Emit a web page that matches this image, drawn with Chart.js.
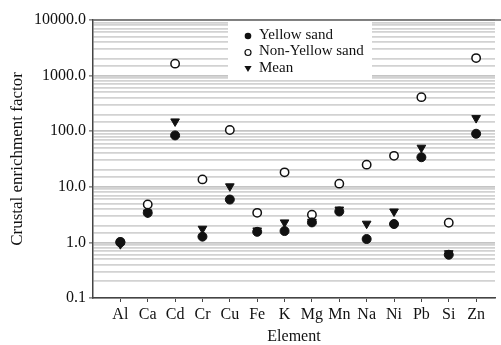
<!DOCTYPE html>
<html>
<head>
<meta charset="utf-8">
<script src="https://cdn.jsdelivr.net/npm/chart.js@4"></script>
<style>
html,body{margin:0;padding:0;background:#fff;}
#wrap{width:501px;height:345px;}
</style>
</head>
<body>
<div id="wrap"><canvas id="c" width="501" height="345"></canvas></div>
<script>
const categories = ['Al','Ca','Cd','Cr','Cu','Fe','K','Mg','Mn','Na','Ni','Pb','Si','Zn'];
const yellowSand = [1.0, 3.4, 84, 1.27, 5.9, 1.55, 1.6, 2.29, 3.6, 1.15, 2.14, 34, 0.60, 90];
const nonYellowSand = [1.02, 4.8, 1640, 13.6, 105, 3.4, 18.2, 3.15, 11.4, 25, 36, 410, 2.26, 2065];
const meanValues = [0.93, 3.45, 150, 1.76, 10.2, 1.64, 2.29, 2.35, 3.9, 2.17, 3.6, 50.5, 0.64, 172];
const yTickLabels = ['0.1','1.0','10.0','100.0','1000.0','10000.0'];
const seriesNames = ['Yellow sand','Non-Yellow sand','Mean'];

const FONT = "'Liberation Serif', 'Times New Roman', serif";
const toXY = arr => arr.map((v,i)=>({x:i,y:v}));
const isMajor = v => Math.abs(Math.log10(v) - Math.round(Math.log10(v))) < 1e-9;

const legendPlugin = {
  id:'inlineLegend',
  afterDatasetsDraw(chart){
    const ctx = chart.ctx;
    ctx.save();
    ctx.fillStyle = '#fff';
    ctx.fillRect(228, 21, 144, 59);
    const rows = [35, 51.5, 68];
    ctx.font = "15px " + FONT;
    ctx.textBaseline = 'middle';
    chart.data.datasets.forEach((ds) => {
      const idx = seriesNames.indexOf(ds.label);
      const y = rows[idx];
      const x = 248;
      ctx.save();
      ctx.lineWidth = 1.2;
      ctx.strokeStyle = '#111';
      if (idx === 0) { ctx.fillStyle='#111'; ctx.beginPath(); ctx.arc(x, y+1, 3.3, 0, Math.PI*2); ctx.fill(); }
      else if (idx === 1) { ctx.fillStyle='#fff'; ctx.beginPath(); ctx.arc(x, y+1, 3, 0, Math.PI*2); ctx.fill(); ctx.stroke(); }
      else { ctx.fillStyle='#111'; ctx.beginPath(); ctx.moveTo(x-3.6, y-2); ctx.lineTo(x+3.6, y-2); ctx.lineTo(x, y+4); ctx.closePath(); ctx.fill(); }
      ctx.restore();
      ctx.fillStyle = '#111';
      ctx.fillText(ds.label, 259, y);
    });
    ctx.strokeStyle = '#666';
    ctx.lineWidth = 1.5;
    ctx.beginPath();
    ctx.moveTo(chart.chartArea.left, chart.chartArea.top);
    ctx.lineTo(501, chart.chartArea.top);
    ctx.stroke();
    ctx.restore();
  }
};

new Chart(document.getElementById('c'), {
  type:'scatter',
  data:{
    datasets:[
      {label:seriesNames[0], data:toXY(yellowSand), pointStyle:'circle', pointRadius:4.5, pointHoverRadius:4.5,
       backgroundColor:'#111', borderColor:'#111', borderWidth:1, order:1},
      {label:seriesNames[1], data:toXY(nonYellowSand), pointStyle:'circle', pointRadius:4.2, pointHoverRadius:4.2,
       backgroundColor:'#fff', borderColor:'#111', borderWidth:1.5, order:3},
      {label:seriesNames[2], data:toXY(meanValues), pointStyle:'triangle', rotation:180, pointRadius:5, pointHoverRadius:5,
       backgroundColor:'#111', borderColor:'#111', borderWidth:1, order:2}
    ]
  },
  options:{
    responsive:false,
    animation:false,
    events:[],
    layout:{padding:{top:20, right:1, left:0, bottom:0}},
    plugins:{legend:{display:false}, tooltip:{enabled:false}},
    scales:{
      x:{
        type:'linear', min:-1, max:13.69,
        afterBuildTicks(scale){ scale.ticks = categories.map((c,i)=>({value:i})); },
        afterFit(scale){ scale.height = 47; },
        ticks:{ callback:(v)=>categories[v] ?? '', font:{family:FONT, size:16}, color:'#111', padding:3, maxRotation:0, autoSkip:false },
        grid:{ display:true, drawOnChartArea:false, drawTicks:true, tickLength:4, tickColor:'#444', tickWidth:1 },
        border:{ display:true, color:'#444', width:1.5 },
        title:{ display:true, text:'Element', font:{family:FONT, size:16, lineHeight:1}, color:'#111', padding:{top:0,bottom:0} }
      },
      y:{
        type:'logarithmic', min:0.1, max:10000,
        afterFit(scale){ scale.width = 93; },
        ticks:{ autoSkip:false, font:{family:FONT, size:16}, color:'#111', padding:3,
          callback:(v)=> isMajor(v) ? yTickLabels[Math.round(Math.log10(v))+1] : '' },
        grid:{ color:(c)=> (c.tick && isMajor(c.tick.value)) ? '#c4c4c4' : '#d2d2d2', lineWidth:1.8,
          drawTicks:true, tickLength:4, tickColor:(c)=> (c.tick && isMajor(c.tick.value)) ? '#444' : 'rgba(0,0,0,0)', tickWidth:1 },
        border:{ display:true, color:'#444', width:1.5 },
        title:{ display:true, text:'Crustal enrichment factor', font:{family:FONT, size:17}, color:'#111', padding:{top:7,bottom:0} }
      }
    }
  },
  plugins:[legendPlugin]
});
</script>
</body>
</html>
